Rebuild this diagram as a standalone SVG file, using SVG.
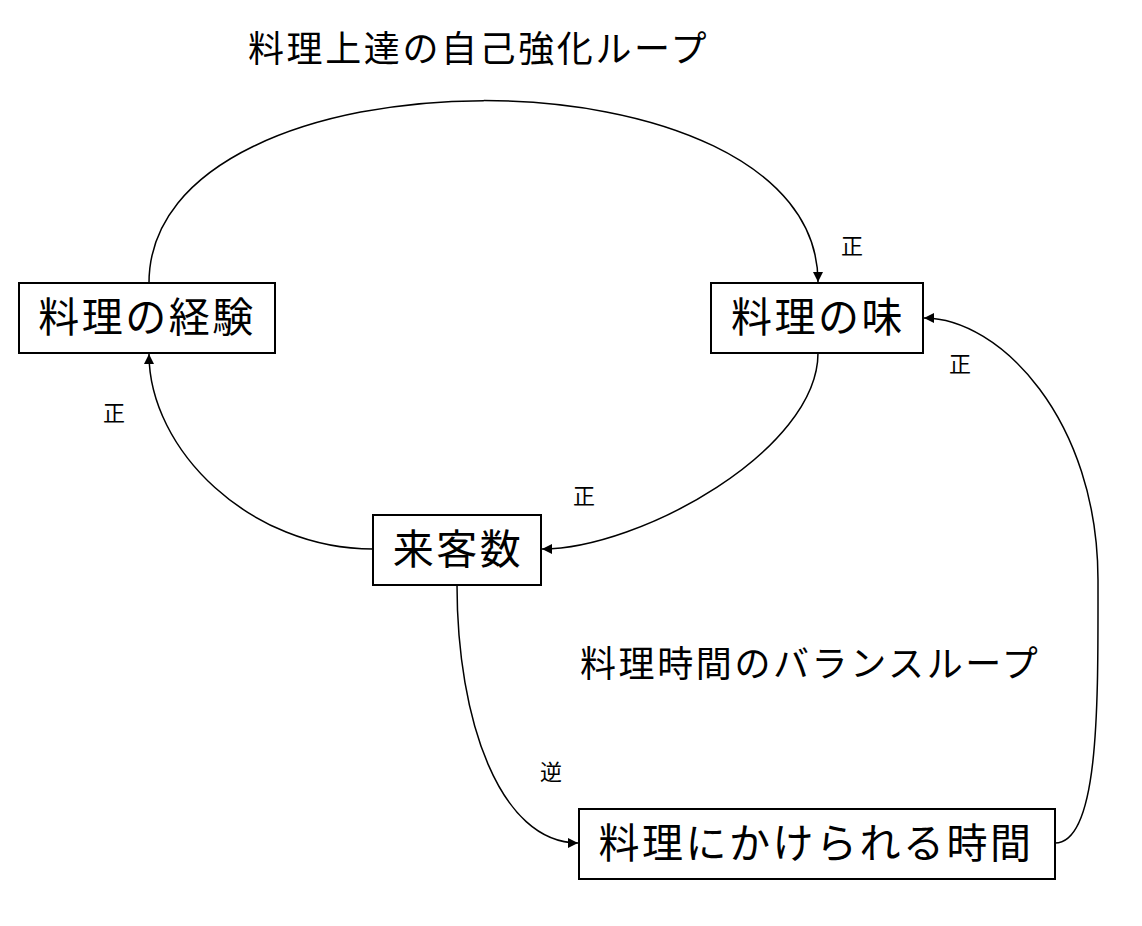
<svg xmlns="http://www.w3.org/2000/svg" width="1142" height="926" viewBox="0 0 1142 926">
<style>
text{font-family:"Noto Sans CJK JP","Noto Sans",sans-serif;fill:#000}
.n rect{fill:#fff;stroke:#000;stroke-width:2}
.n text{font-size:41px;letter-spacing:2.5px;text-anchor:middle;dominant-baseline:central}
.l{font-size:22px;text-anchor:middle;dominant-baseline:central}
.t{font-size:36px;letter-spacing:2.6px;dominant-baseline:central}
#c path{fill:none;stroke:#000;stroke-width:1.5;marker-end:url(#a)}
</style>
<defs><marker id="a" viewBox="0 0 10 10" refX="10" refY="5" markerWidth="10" markerHeight="10" markerUnits="userSpaceOnUse" orient="auto"><path d="M0,0L10,5L0,10z" fill="#000"/></marker></defs>
<rect width="1142" height="926" fill="#fff"/>
<text class="t" x="248" y="46">料理上達の自己強化ループ</text>
<text class="t" x="580" y="661">料理時間のバランスループ</text>
<g id="c">
<path d="M149,283 C149,40 818,40 818,282"/>
<path d="M818,353 C818,450 640,549 542,549"/>
<path d="M373,549 C250,549 149,450 149,354"/>
<path d="M457,585 C457,720 500,843 578,843"/>
<path d="M1055,843 C1100,843 1098,700 1098,580 C1098,420 1000,318 924,318"/>
</g>
<text class="l" x="852" y="244">正</text>
<text class="l" x="960" y="362">正</text>
<text class="l" x="114" y="411">正</text>
<text class="l" x="584" y="494">正</text>
<text class="l" x="551" y="770">逆</text>
<g id="n1" class="n"><rect x="19" y="283" width="256" height="70"/><text x="147" y="314">料理の経験</text></g>
<g id="n2" class="n"><rect x="711" y="283" width="212" height="70"/><text x="818" y="314">料理の味</text></g>
<g id="n3" class="n"><rect x="373" y="515" width="168" height="70"/><text x="458" y="546">来客数</text></g>
<g id="n4" class="n"><rect x="579" y="809" width="476" height="70"/><text x="816" y="840">料理にかけられる時間</text></g>
</svg>
